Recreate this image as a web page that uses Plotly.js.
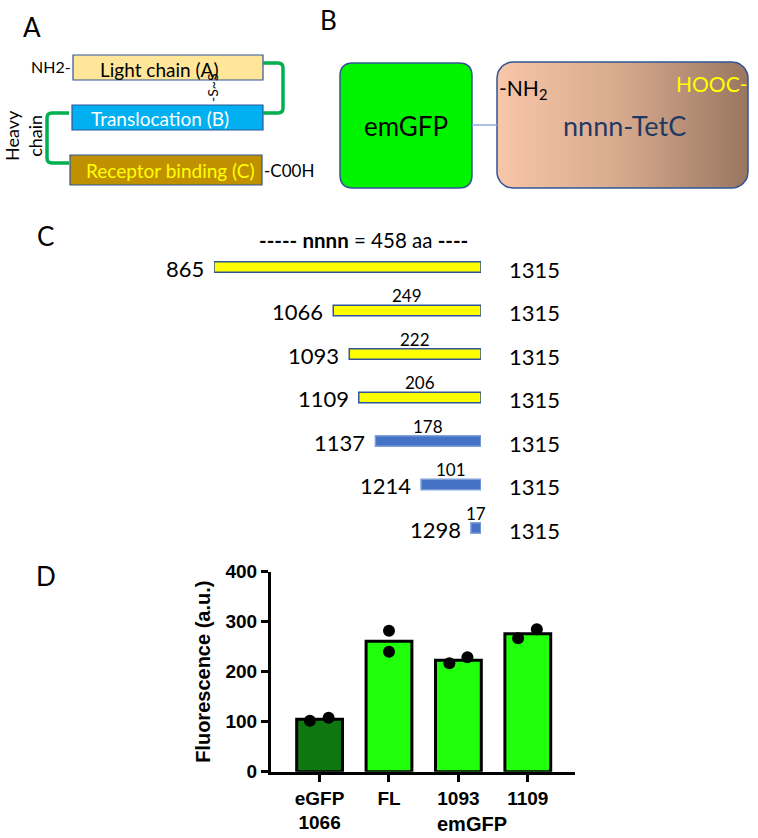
<!DOCTYPE html>
<html><head><meta charset="utf-8">
<script src="https://cdn.plot.ly/plotly-3.0.1.min.js"></script>
<style>html,body{margin:0;padding:0;background:#fff}</style>
</head><body><div id="chart" style="width:758px;height:838px"></div>
<script>
// ---------- Panel C: TetC truncation constructs ----------
const constructStarts = [865, 1066, 1093, 1109, 1137, 1214, 1298];
const constructEnds = [1315, 1315, 1315, 1315, 1315, 1315, 1315];
const constructLengthLabels = ['', '249', '222', '206', '178', '101', '17'];
const constructFill = ['#FFFF00', '#FFFF00', '#FFFF00', '#FFFF00', '#4472C4', '#4472C4', '#4472C4'];
const constructEdge = ['#2F5597', '#2F5597', '#2F5597', '#2F5597', '#7F9FD8', '#7F9FD8', '#7F9FD8'];
const constructHeader = '<b>-----</b> <b>nnnn</b> = 458 aa <b>----</b>';

// ---------- Panel D: fluorescence ----------
const fluoCategories = ['eGFP<br>1066', 'FL', '1093', '1109'];
const fluoMeans = [105, 261, 223, 276];
const fluoRep1 = [102, 282, 217, 267];
const fluoRep2 = [108, 240, 229, 285];
const fluoColors = ['#0F770F', '#22FF0A', '#22FF0A', '#22FF0A'];
const yTickVals = [0, 100, 200, 300, 400];
const jitter1 = [-0.14, 0, -0.13, -0.14];
const jitter2 = [0.13, 0, 0.13, 0.13];

// ---------- helpers (diagram geometry in pixel space via x3/y3) ----------
function roundRectPath(x0, y0, x1, y1, r) {
  return `M ${x0 + r} ${y0} L ${x1 - r} ${y0} Q ${x1} ${y0} ${x1} ${y0 + r} L ${x1} ${y1 - r} Q ${x1} ${y1} ${x1 - r} ${y1} L ${x0 + r} ${y1} Q ${x0} ${y1} ${x0} ${y1 - r} L ${x0} ${y0 + r} Q ${x0} ${y0} ${x0 + r} ${y0} Z`;
}
function roundRectPoints(x0, y0, x1, y1, r) {
  const xs = [], ys = [];
  const corners = [[x1 - r, y0 + r, -90, 0], [x1 - r, y1 - r, 0, 90], [x0 + r, y1 - r, 90, 180], [x0 + r, y0 + r, 180, 270]];
  corners.forEach(c => {
    for (let i = 0; i <= 10; i++) {
      const a = (c[2] + (c[3] - c[2]) * i / 10) * Math.PI / 180;
      xs.push(c[0] + r * Math.cos(a));
      ys.push(c[1] + r * Math.sin(a));
    }
  });
  xs.push(xs[0]); ys.push(ys[0]);
  return {xs, ys};
}

const boxEdge = '#2F5597';
const lbl = 'Lato, "Open Sans", sans-serif';
const arial = '"Liberation Sans", Arial, sans-serif';

const tetc = roundRectPoints(497, 62, 748, 188, 16);
const constructCats = constructStarts.map(s => 'aa' + s);

const traces = [
  // Panel C bars
  {
    type: 'bar', orientation: 'h', xaxis: 'x2', yaxis: 'y2',
    y: constructCats,
    base: constructStarts,
    x: constructEnds.map((e, i) => e - constructStarts[i]),
    width: 0.24,
    marker: {color: constructFill, line: {color: constructEdge, width: 1.5}},
    hoverinfo: 'skip'
  },
  // Panel D bars
  {
    type: 'bar', xaxis: 'x', yaxis: 'y',
    x: [0, 1, 2, 3], y: fluoMeans, width: 0.66,
    marker: {color: fluoColors, line: {color: '#000', width: 3}},
    hoverinfo: 'skip'
  },
  {
    type: 'scatter', mode: 'markers', xaxis: 'x', yaxis: 'y',
    x: [0, 1, 2, 3].map((v, i) => v + jitter1[i]), y: fluoRep1,
    marker: {color: '#000', size: 12}, cliponaxis: false, hoverinfo: 'skip'
  },
  {
    type: 'scatter', mode: 'markers', xaxis: 'x', yaxis: 'y',
    x: [0, 1, 2, 3].map((v, i) => v + jitter2[i]), y: fluoRep2,
    marker: {color: '#000', size: 12}, cliponaxis: false, hoverinfo: 'skip'
  },
  // Panel B TetC gradient box
  {
    type: 'scatter', mode: 'lines', xaxis: 'x3', yaxis: 'y3',
    x: tetc.xs, y: tetc.ys, fill: 'toself',
    fillgradient: {type: 'horizontal', colorscale: [[0, '#F8C6A8'], [0.5, '#D6A98D'], [1, '#997660']]},
    line: {color: boxEdge, width: 1.5}, hoverinfo: 'skip'
  }
];

const shapes = [
  // Panel A boxes
  {type: 'rect', xref: 'x3', yref: 'y3', x0: 73, x1: 263, y0: 55, y1: 80, fillcolor: '#FFE699', line: {color: boxEdge, width: 1.2}},
  {type: 'rect', xref: 'x3', yref: 'y3', x0: 72, x1: 263, y0: 105, y1: 130, fillcolor: '#00B0F0', line: {color: boxEdge, width: 1.2}},
  {type: 'rect', xref: 'x3', yref: 'y3', x0: 70, x1: 262, y0: 155, y1: 185, fillcolor: '#BF9000', line: {color: boxEdge, width: 1.2}},
  {type: 'path', xref: 'x3', yref: 'y3', path: 'M 263 63 L 278 63 Q 283 63 283 68 L 283 108 Q 283 113 278 113 L 263 113', line: {color: '#00B050', width: 3.5}},
  {type: 'path', xref: 'x3', yref: 'y3', path: 'M 69 113 L 52 113 Q 47 113 47 118 L 47 158 Q 47 163 52 163 L 69 163', line: {color: '#00B050', width: 3.5}},
  // Panel B
  {type: 'path', xref: 'x3', yref: 'y3', path: roundRectPath(340, 63, 472, 188, 13), fillcolor: '#00F400', line: {color: boxEdge, width: 1.5}},
  {type: 'line', xref: 'x3', yref: 'y3', x0: 472, x1: 497, y0: 125, y1: 125, line: {color: '#8FAADC', width: 1.5}}
];

function pa(text, x, y, opts) {
  return Object.assign({xref: 'x3', yref: 'y3', x: x, y: y, text: text, showarrow: false,
    font: {family: lbl, size: 19, color: '#000'}, xanchor: 'center', yanchor: 'middle'}, opts || {});
}

const annotations = [
  pa('A', 32, 27, {font: {family: lbl, size: 26, color: '#000'}}),
  pa('B', 328, 20, {font: {family: lbl, size: 26, color: '#000'}}),
  pa('C', 45, 236, {font: {family: lbl, size: 26, color: '#000'}}),
  pa('D', 46, 576, {font: {family: lbl, size: 26, color: '#000'}}),
  // Panel A text
  pa('NH2-', 73, 66, {xanchor: 'right', font: {family: lbl, size: 16, color: '#000'}}),
  pa('Light chain (A)', 159, 69),
  pa('Translocation (B)', 160, 118, {font: {family: lbl, size: 19, color: '#FFFFFF'}}),
  pa('Receptor binding (C)', 170, 170, {font: {family: lbl, size: 19, color: '#FFFF00'}}),
  pa('-C00H', 262, 170, {xanchor: 'left', font: {family: lbl, size: 17, color: '#000'}}),
  pa('Heavy<br>chain', 23, 136, {textangle: -90, font: {family: lbl, size: 18, color: '#000'}}),
  pa('-S~S', 212, 88, {textangle: -90, font: {family: lbl, size: 14, color: '#000'}}),
  // Panel B text
  pa('emGFP', 406, 126, {font: {family: lbl, size: 26, color: '#000'}}),
  pa('nnnn-TetC', 624, 125, {font: {family: lbl, size: 27, color: '#1F3864'}}),
  pa('-NH<sub>2</sub>', 497, 89, {xanchor: 'left', font: {family: lbl, size: 21, color: '#000'}}),
  pa('HOOC-', 749, 83, {xanchor: 'right', font: {family: lbl, size: 21, color: '#FFFF00'}}),
  // Panel C header
  pa(constructHeader, 363, 240, {font: {family: lbl, size: 20.5, color: '#000'}}),
  // Panel D x title
  pa('emGFP', 472, 824, {font: {family: arial, size: 20, color: '#000', weight: 'bold'}})
];

constructStarts.forEach((s, i) => {
  annotations.push({xref: 'x2', yref: 'y2', x: s, y: i, text: String(s), showarrow: false,
    xanchor: 'right', yanchor: 'middle', xshift: -8, yshift: -1, font: {family: lbl, size: 22, color: '#000'}});
  annotations.push({xref: 'x2', yref: 'y2', x: constructEnds[i], y: i, text: String(constructEnds[i]), showarrow: false,
    xanchor: 'left', yanchor: 'middle', xshift: 26, yshift: -2, font: {family: lbl, size: 22, color: '#000'}});
  if (constructLengthLabels[i]) {
    annotations.push({xref: 'x2', yref: 'y2', x: (s + constructEnds[i]) / 2, y: i, text: constructLengthLabels[i], showarrow: false,
      xanchor: 'center', yanchor: 'middle', yshift: 15, font: {family: lbl, size: 17, color: '#000'}});
  }
});

const axisFont = {family: arial, size: 19, color: '#000', weight: 'bold'};

const layout = {
  width: 758, height: 838,
  margin: {l: 0, r: 0, t: 0, b: 0},
  paper_bgcolor: '#FFFFFF', plot_bgcolor: 'rgba(0,0,0,0)',
  showlegend: false,
  font: {family: lbl, color: '#000'},
  xaxis: {
    domain: [271 / 758, 575 / 758], range: [-0.7, 3.68],
    tickvals: [0, 1, 2, 3], ticktext: fluoCategories,
    showline: true, linewidth: 3, linecolor: '#000',
    ticks: 'outside', ticklen: 7, tickwidth: 3, tickcolor: '#000',
    showgrid: false, zeroline: false, tickfont: axisFont, fixedrange: true
  },
  yaxis: {
    domain: [1 - 771.7 / 838, 1 - 571.7 / 838], range: [0, 400],
    tickvals: yTickVals,
    showline: true, linewidth: 3, linecolor: '#000',
    ticks: 'outside', ticklen: 7, tickwidth: 3, tickcolor: '#000',
    showgrid: false, zeroline: false, tickfont: axisFont, fixedrange: true,
    title: {text: 'Fluorescence (a.u.)', font: {family: arial, size: 20, color: '#000', weight: 'bold'}, standoff: 10}
  },
  xaxis2: {domain: [214 / 758, 481 / 758], range: [865, 1315], visible: false, fixedrange: true},
  yaxis2: {domain: [1 - 549.75 / 838, 1 - 245.25 / 838], type: 'category', range: [6.5, -0.5], visible: false, fixedrange: true},
  xaxis3: {domain: [0, 1], range: [0, 758], visible: false, fixedrange: true},
  yaxis3: {domain: [0, 1], range: [838, 0], visible: false, fixedrange: true},
  shapes: shapes,
  annotations: annotations
};

Plotly.newPlot('chart', traces, layout, {displayModeBar: false, staticPlot: true});
</script>
</body></html>
